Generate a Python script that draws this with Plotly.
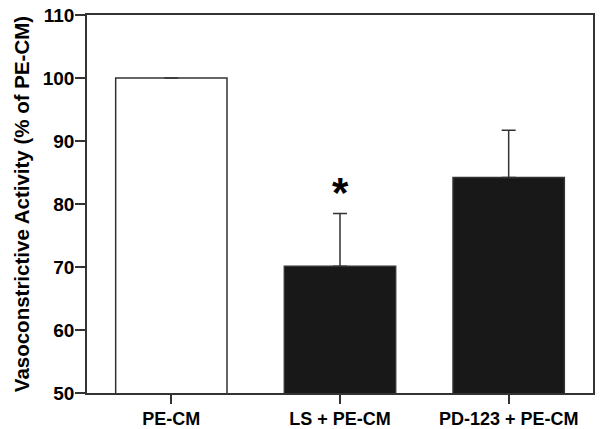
import plotly.graph_objects as go

categories = ["PE-CM", "LS + PE-CM", "PD-123 + PE-CM"]
values = [100, 70.1, 84.2]
errors = [0, 8.4, 7.5]
fill_colors = ["white", "#181818", "#181818"]
significant = [False, True, False]
y_ticks = [50, 60, 70, 80, 90, 100, 110]

FONT = "Liberation Sans, Arial, sans-serif"

fig = go.Figure()
fig.add_trace(go.Bar(
    x=categories, y=values, base=0,
    width=0.66,
    marker=dict(color=fill_colors, line=dict(color="#333333", width=1.5)),
    error_y=dict(type="data", array=errors, arrayminus=[0] * len(errors),
                 symmetric=False, color="#333333", thickness=1.5, width=7),
))

for c, v, e, s in zip(categories, values, errors, significant):
    if s:
        fig.add_annotation(x=c, y=v + e, text="<b>*</b>", showarrow=False,
                           yshift=21, font=dict(size=42, color="black", family=FONT))

fig.update_layout(
    width=600, height=429,
    margin=dict(l=87, r=7, t=15, b=36),
    paper_bgcolor="white", plot_bgcolor="white",
    showlegend=False,
    font=dict(family=FONT, color="black"),
    xaxis=dict(
        automargin=False, ticklabeloverflow="allow",
        showline=True, mirror=True, linecolor="#333333", linewidth=1.5,
        ticks="outside", ticklen=9, tickwidth=1.5, tickcolor="#333333",
        tickfont=dict(size=18, family=FONT),
        tickvals=categories, ticktext=["<b>%s</b>" % c for c in categories],
        range=[-0.5, 2.5],
    ),
    yaxis=dict(
        automargin=False, ticklabeloverflow="allow", ticklabelstandoff=-3,
        range=[50, 110],
        showline=True, mirror=True, linecolor="#333333", linewidth=1.5,
        ticks="outside", ticklen=10, tickwidth=1.5, tickcolor="#333333",
        tickvals=y_ticks, ticktext=["<b>%d</b>" % t for t in y_ticks],
        tickfont=dict(size=19, family=FONT),
        showgrid=False, zeroline=False,
        title=dict(text="<b>Vasoconstrictive Activity (% of PE-CM)</b>",
                   font=dict(size=20.5, family=FONT), standoff=8),
    ),
)

fig.write_html("out.html", config={"displayModeBar": False},
               post_script="document.body.style.margin='0';")
